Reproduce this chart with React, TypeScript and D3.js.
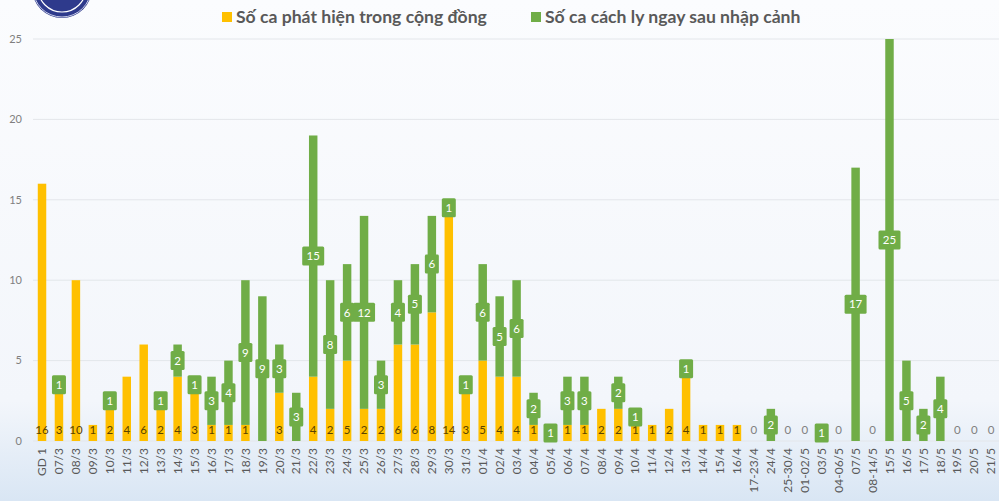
import React, { useEffect, useRef } from 'react'
import * as d3 from 'd3'

const categories = [
  'GD 1', '07/3', '08/3', '09/3', '10/3', '11/3', '12/3', '13/3', '14/3', '15/3',
  '16/3', '17/3', '18/3', '19/3', '20/3', '21/3', '22/3', '23/3', '24/3', '25/3',
  '26/3', '27/3', '28/3', '29/3', '30/3', '31/3', '01/4', '02/4', '03/4', '04/4',
  '05/4', '06/4', '07/4', '08/4', '09/4', '10/4', '11/4', '12/4', '13/4', '14/4',
  '15/4', '16/4', '17-23/4', '24/4', '25-30/4', '01-02/5', '03/5', '04-06/5', '07/5', '08-14/5',
  '15/5', '16/5', '17/5', '18/5', '19/5', '20/5', '21/5',
]

// Số ca phát hiện trong cộng đồng
const community = [
  16, 3, 10, 1, 2, 4, 6, 2, 4, 3,
  1, 1, 1, 0, 3, 0, 4, 2, 5, 2,
  2, 6, 6, 8, 14, 3, 5, 4, 4, 1,
  0, 1, 1, 2, 2, 1, 1, 2, 4, 1,
  1, 1, 0, 0, 0, 0, 0, 0, 0, 0,
  0, 0, 0, 0, 0, 0, 0,
]

// Số ca cách ly ngay sau nhập cảnh
const imported = [
  0, 1, 0, 0, 1, 0, 0, 1, 2, 1,
  3, 4, 9, 9, 3, 3, 15, 8, 6, 12,
  3, 4, 5, 6, 1, 1, 6, 5, 6, 2,
  1, 3, 3, 0, 2, 1, 0, 0, 1, 0,
  0, 0, 0, 2, 0, 0, 1, 0, 17, 0,
  25, 5, 2, 4, 0, 0, 0,
]

const yTicks = [0, 5, 10, 15, 20, 25]

const legendItems = [
  { label: 'Số ca phát hiện trong cộng đồng', color: '#ffc000', x: 222 },
  { label: 'Số ca cách ly ngay sau nhập cảnh', color: '#70ad47', x: 531 },
]

const W = 999
const H = 501
const FONT = 'Lato, "Open Sans", sans-serif'

function drawChart(svgEl: SVGSVGElement) {
  const svg = d3.select(svgEl)
  svg.selectAll('*').remove()

  const defs = svg.append('defs')
  const grad = defs.append('linearGradient')
    .attr('id', 'bg-grad').attr('x1', 0).attr('y1', 0).attr('x2', 0).attr('y2', 1)
  grad.append('stop').attr('offset', '0%').attr('stop-color', '#fbfcfe')
  grad.append('stop').attr('offset', '80%').attr('stop-color', '#f3f6fb')
  grad.append('stop').attr('offset', '100%').attr('stop-color', '#d9e6f4')

  svg.append('rect').attr('width', W).attr('height', H).attr('fill', 'url(#bg-grad)')

  // logo, cut off at the top
  const logo = svg.append('g')
  logo.append('circle').attr('cx', 62).attr('cy', -12).attr('r', 30).attr('fill', '#2e3a8c')
  logo.append('circle').attr('cx', 62).attr('cy', -12).attr('r', 24)
    .attr('fill', 'none').attr('stroke', '#ffffff').attr('stroke-width', 1.2)
  logo.append('circle').attr('cx', 62).attr('cy', -12).attr('r', 29)
    .attr('fill', 'none').attr('stroke', '#c9cde6').attr('stroke-width', 1)

  const data = categories.map((c, i) => ({ cat: c, a: community[i], b: imported[i] }))

  const x = d3.scaleBand<string>()
    .domain(categories)
    .range([29.3, 1003.9])
    .padding(0.5)

  const y = d3.scaleLinear()
    .domain([0, 25])
    .range([441, 39])

  // gridlines + y ticks
  const grid = svg.append('g')
  grid.selectAll('line')
    .data(yTicks)
    .enter()
    .append('line')
    .attr('x1', 33).attr('x2', W)
    .attr('y1', d => y(d)).attr('y2', d => y(d))
    .attr('stroke', '#e3e6ea').attr('stroke-width', 1)

  grid.selectAll('text')
    .data(yTicks)
    .enter()
    .append('text')
    .attr('x', 22).attr('y', d => y(d))
    .attr('dy', '0.35em')
    .attr('text-anchor', 'end')
    .attr('font-family', FONT)
    .attr('font-size', 11)
    .attr('fill', '#7f7f7f')
    .text(d => d)

  const bw = x.bandwidth()

  // community bars (bottom)
  svg.append('g').selectAll('rect')
    .data(data.filter(d => d.a > 0))
    .enter()
    .append('rect')
    .attr('x', d => x(d.cat)!)
    .attr('width', bw)
    .attr('y', d => y(d.a))
    .attr('height', d => y(0) - y(d.a))
    .attr('fill', '#ffc000')

  // imported bars (stacked)
  svg.append('g').selectAll('rect')
    .data(data.filter(d => d.b > 0))
    .enter()
    .append('rect')
    .attr('x', d => x(d.cat)!)
    .attr('width', bw)
    .attr('y', d => y(d.a + d.b))
    .attr('height', d => y(d.a) - y(d.a + d.b))
    .attr('fill', '#70ad47')

  // community labels at the base
  svg.append('g').selectAll('text')
    .data(data.filter(d => d.a > 0))
    .enter()
    .append('text')
    .attr('x', d => x(d.cat)! + bw / 2)
    .attr('y', y(0) - 11)
    .attr('dy', '0.35em')
    .attr('text-anchor', 'middle')
    .attr('font-family', FONT)
    .attr('font-size', 11.5)
    .attr('fill', '#5a4300')
    .text(d => d.a)

  // zero labels
  svg.append('g').selectAll('text')
    .data(data.filter(d => d.a === 0 && d.b === 0))
    .enter()
    .append('text')
    .attr('x', d => x(d.cat)! + bw / 2)
    .attr('y', y(0) - 11)
    .attr('dy', '0.35em')
    .attr('text-anchor', 'middle')
    .attr('font-family', FONT)
    .attr('font-size', 11.5)
    .attr('fill', '#808080')
    .text('0')

  // imported labels: green boxes in the middle of the segment
  const boxes = svg.append('g').selectAll('g')
    .data(data.filter(d => d.b > 0))
    .enter()
    .append('g')
    .attr('transform', d => `translate(${x(d.cat)! + bw / 2},${y(d.a + d.b / 2)})`)

  boxes.append('rect')
    .attr('x', d => (d.b >= 10 ? -11 : -7))
    .attr('width', d => (d.b >= 10 ? 22 : 14))
    .attr('y', -9.5)
    .attr('height', 19)
    .attr('rx', 1.5)
    .attr('fill', '#70ad47')

  boxes.append('text')
    .attr('text-anchor', 'middle')
    .attr('dy', '0.36em')
    .attr('font-family', FONT)
    .attr('font-size', 11.5)
    .attr('fill', '#ffffff')
    .text(d => d.b)

  // x axis labels (rotated)
  svg.append('g').selectAll('text')
    .data(categories)
    .enter()
    .append('text')
    .attr('transform', d => `translate(${x(d)! + bw / 2},448) rotate(-90)`)
    .attr('text-anchor', 'end')
    .attr('dy', '0.35em')
    .attr('font-family', FONT)
    .attr('font-size', 12)
    .attr('fill', '#595959')
    .text(d => d)

  // legend
  const legend = svg.append('g')
  const items = legend.selectAll('g')
    .data(legendItems)
    .enter()
    .append('g')
    .attr('transform', d => `translate(${d.x},17)`)
  items.append('rect')
    .attr('x', 0).attr('y', -5).attr('width', 10).attr('height', 10)
    .attr('fill', d => d.color)
  items.append('text')
    .attr('x', 14).attr('dy', '0.35em')
    .attr('font-family', FONT)
    .attr('font-size', 17.6)
    .attr('font-weight', 'bold')
    .attr('fill', '#595959')
    .text(d => d.label)
}

export default function App() {
  const ref = useRef<SVGSVGElement>(null)

  useEffect(() => {
    if (ref.current) drawChart(ref.current)
  }, [])

  return (
    <svg
      ref={ref}
      width={W}
      height={H}
      style={{ position: 'fixed', left: 0, top: 0, display: 'block' }}
    />
  )
}
